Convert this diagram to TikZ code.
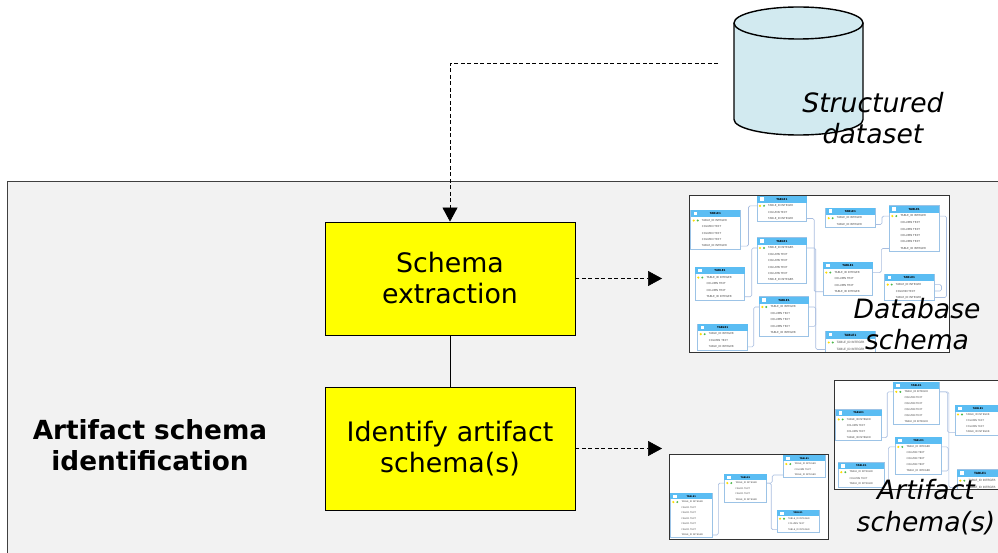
\documentclass[tikz,border=0pt]{standalone}
\usepackage{fontspec}
\setmainfont{DejaVu Sans}
\usetikzlibrary{arrows.meta}
\definecolor{panelgray}{HTML}{F2F2F2}
\definecolor{cylblue}{HTML}{D2EAF0}
\definecolor{stepyellow}{HTML}{FFFF00}
\definecolor{headblue}{HTML}{5BBDF3}
\definecolor{edgeblue}{HTML}{9CC3E6}
\definecolor{linkblue}{HTML}{A9BEE0}
\tikzset{
  stepbox/.style={draw=black,line width=0.8pt,fill=stepyellow,minimum width=250pt,text width=240pt,align=center,font=\fontsize{26.8}{31}\selectfont,inner sep=0pt},
  flow/.style={line width=0.7pt,dash pattern=on 4pt off 2.5pt,-{Triangle[length=14pt,width=15pt]}},
  caption/.style={align=center,font=\fontsize{26.6}{31.5}\selectfont\itshape,inner sep=0pt},
  tablebox/.style={draw=edgeblue,line width=0.8pt,fill=white,inner sep=0pt,outer sep=0pt,anchor=north west},
  schemaframe/.style={draw=black!80,line width=1pt},
  link/.style={draw=linkblue,line width=0.6pt,rounded corners=1.5pt},
  cyl/.style={draw=black,line width=1.4pt,fill=cylblue},
}
% name, left, top, right, bottom, rows, middle row text
\newcommand{\schematable}[7]{%
  \pgfmathsetmacro{\rowh}{(#5-#3)/(#6+1.1)}%
  \pgfmathsetmacro{\headh}{1.1*\rowh}%
  \pgfmathsetmacro{\tabw}{#4-#2}%
  \pgfmathsetmacro{\tabh}{#5-#3}%
  \pgfmathsetmacro{\tabfs}{0.42*\rowh}%
  \node[tablebox,minimum width=\tabw pt,minimum height=\tabh pt] (#1) at (#2,#3) {};%
  \fill[headblue] (#2,#3) rectangle (#4,#3+\headh);%
  \fill[white] (#2+3,#3+1.5) rectangle ++(3.5,3.5);%
  \node[inner sep=0pt,font=\fontsize{\tabfs}{\tabfs}\selectfont\bfseries] (#1-title) at (#2/2+#4/2,#3+\headh/2) {TABLE1};%
  \fill[yellow!80!orange] (#2+3,#3+\headh+\rowh/2) circle (1.2pt);%
  \fill[green!60!black!70] (#2+7,#3+\headh+\rowh/2) circle (1.1pt);%
  \foreach \i in {1,...,#6} {%
    \pgfmathsetmacro{\rowy}{#3+\headh+(\i-0.5)*\rowh}%
    \coordinate (#1-l\i) at (#2,\rowy);%
    \coordinate (#1-r\i) at (#4,\rowy);%
    \node[inner sep=0pt,anchor=west,text=black!70,font=\fontsize{\tabfs}{\tabfs}\selectfont] (#1-row\i) at (#2+11,\rowy)
      {\ifnum\i=1 TABLE\_ID INTEGER\else\ifnum\i=#6 TABLE\_ID INTEGER\else #7\fi\fi};%
  }%
}
\begin{document}
\begin{tikzpicture}[x=1pt,y=-1pt]%
\path[use as bounding box,clip] (0,0) rectangle (998,553);%
% grey panel
\draw[fill=panelgray,draw=black!75] (7,181) rectangle (1010,570);%
% source
\draw[cyl] (734,23) -- (734,119.5) arc[start angle=180,end angle=360,x radius=64.5pt,y radius=15.5pt] -- (863,23);%
\draw[cyl] (798.5,23) ellipse [x radius=64.5pt,y radius=16pt];%
\coordinate (datasetout) at (718,63.5);%
\node[caption] (datasetcap) at (873,118) {Structured\\dataset};%
% steps
\node[stepbox,minimum height=113pt] (extract) at (450,278.5) {Schema\\extraction};%
\node[stepbox,minimum height=123pt] (identify) at (450,448.5) {Identify artifact\\schema(s)};%
\node[align=center,inner sep=0pt,font=\fontsize{26.3}{31}\selectfont\bfseries] (phase) at (150,445) {Artifact schema\\identification};%
% database schema
\begin{scope}
\fill[white] (689,196) rectangle (949,352);%
\clip (689,196) rectangle (949,352);%
\schematable{dba}{690.7}{210.3}{740}{249.3}{5}{COLUMN TEXT}
\schematable{dbb}{757}{195.7}{806.7}{221.7}{3}{COLUMN TEXT}
\schematable{dbc}{757}{237.7}{806.7}{283.3}{6}{COLUMN TEXT}
\schematable{dbd}{695.3}{267.3}{744.7}{300}{4}{COLUMN TEXT}
\schematable{dbe}{759.3}{296.7}{808.7}{336}{5}{COLUMN TEXT}
\schematable{dbf}{697.7}{324}{747.7}{350}{3}{COLUMN TEXT}
\schematable{dbg}{825.7}{208}{875}{227.7}{2}{COLUMN TEXT}
\schematable{dbh}{889.3}{205.7}{939}{251.7}{6}{COLUMN TEXT}
\schematable{dbi}{823.3}{262.3}{872.7}{295}{4}{COLUMN TEXT}
\schematable{dbj}{884.7}{274.3}{934}{300.7}{3}{COLUMN TEXT}
\schematable{dbk}{825.7}{331.3}{875}{353}{2}{COLUMN TEXT}
\draw[link] (dba-r5) -- ++(8.5,0) |- (dbb-l1);%
\draw[link] (dbd-r4) -- ++(7,0) |- (dbc-l1);%
\draw[link] (dbf-r3) -- ++(6,0) |- (dbe-l1);%
\draw[link] (dbb-r3) -- ++(7.5,0) |- (dbi-l4);%
\draw[link] (dbc-r1) -- ++(9,0) |- (dbk-l2);%
\draw[link] (dbe-r4) -- ++(7,0) |- (dbe-r1);%
\draw[link] (dbg-r2) -- ++(7,0) |- (dbh-l1);%
\draw[link] (dbh-l6) -- ++(-8,0) |- (dbi-r1);%
\draw[link] (dbh-r1) -- ++(7.5,0) |- (dbj-r3);%
\draw[link] (dbj-r1) -- ++(7.5,0) |- (dbj-r2);%
\end{scope}
\draw[schemaframe] (689,196) rectangle (949,352);%
% artifact schemas
\begin{scope}
\fill[white] (834.3,380.7) rectangle (1000,489.3);%
\clip (834.3,380.7) rectangle (1000,489.3);%
\schematable{ara}{835.7}{409.7}{881.7}{440.7}{4}{COLUMN TEXT}
\schematable{arb}{893.3}{382.3}{939.3}{424.7}{6}{COLUMN TEXT}
\schematable{arc}{955}{405}{1001}{435.3}{4}{COLUMN TEXT}
\schematable{ard}{895.3}{437.3}{941.7}{474}{5}{COLUMN TEXT}
\schematable{are}{838.3}{462.7}{884.3}{487}{3}{COLUMN TEXT}
\schematable{arf}{957.3}{469.7}{1003}{491}{2}{COLUMN TEXT}
\draw[link] (ara-r4) -- ++(5.5,0) |- (arb-l1);%
\draw[link] (are-r3) -- ++(4,0) |- (ard-l1);%
\draw[link] (arb-r1) -- ++(8,0) |- (arc-l4);%
\draw[link] (arb-r1) -- ++(9.5,0) |- (arf-l2);%
\draw[link] (ard-r5) -- ++(6.5,0) |- (ard-r1);%
\end{scope}
\draw[schemaframe] (834.3,380.7) rectangle (1000,489.3);%
\begin{scope}
\fill[white] (669.3,454.7) rectangle (828.3,539.3);%
\clip (669.3,454.7) rectangle (828.3,539.3);%
\schematable{fla}{670.3}{493.3}{712.3}{537.7}{7}{FIELD1 TEXT}
\schematable{flb}{724.3}{474.3}{766.7}{502.3}{4}{FIELD1 TEXT}
\schematable{flc}{783.3}{455.3}{825.3}{477.7}{3}{COLUMN TEXT}
\schematable{fld}{777}{510}{819}{532.3}{3}{COLUMN TEXT}
\draw[link] (fla-r7) -- ++(6,0) |- (flb-l1);%
\draw[link] (flb-r1) -- ++(5.5,0) |- (flc-l3);%
\draw[link] (flb-r1) -- ++(4.5,0) |- (fld-l3);%
\end{scope}
\draw[schemaframe] (669.3,454.7) rectangle (828.3,539.3);%
% captions sit on the pictures
\node[caption] (dbcap) at (917,324) {Database\\schema};%
\node[caption] (arcap) at (926,507) {Artifact\\schema(s)};%
% connectors
\coordinate (dbin) at (662,278.5);%
\coordinate (arin) at (662,448.5);%
\draw[flow] (datasetout) -| (extract.north);%
\draw[flow] (extract.east) -- (dbin);%
\draw[flow] (identify.east) -- (arin);%
\draw[line width=0.7pt] (extract) -- (identify);%
\end{tikzpicture}
\end{document}
